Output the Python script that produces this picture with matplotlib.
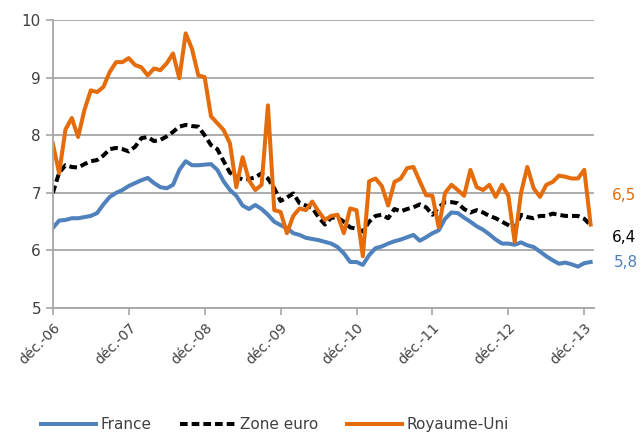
import numpy as np
import matplotlib
matplotlib.use('Agg')
import matplotlib.pyplot as plt

# monthly long-term rates, dec. 2006 -> jan. 2014
france = [6.39, 6.52, 6.53, 6.56, 6.56, 6.58, 6.60, 6.65, 6.80, 6.93,
          7.00, 7.05, 7.12, 7.17, 7.22, 7.26, 7.17, 7.10, 7.08, 7.14,
          7.40, 7.55, 7.48, 7.48, 7.49, 7.50, 7.40, 7.20, 7.05, 6.95,
          6.78, 6.72, 6.79, 6.72, 6.62, 6.50, 6.44, 6.39, 6.30, 6.27,
          6.22, 6.20, 6.18, 6.15, 6.12, 6.06, 5.95, 5.80, 5.80, 5.75,
          5.92, 6.04, 6.07, 6.12, 6.16, 6.19, 6.23, 6.27, 6.17, 6.23,
          6.30, 6.35, 6.55, 6.66, 6.65, 6.57, 6.50, 6.42, 6.36, 6.28,
          6.19, 6.12, 6.12, 6.10, 6.14, 6.09, 6.06, 5.98, 5.90, 5.83,
          5.77, 5.79, 5.76, 5.72, 5.78, 5.80]
zone_euro = [7.00, 7.35, 7.48, 7.45, 7.44, 7.50, 7.55, 7.57, 7.65, 7.76,
             7.78, 7.76, 7.72, 7.80, 7.95, 7.97, 7.90, 7.92, 7.98, 8.06,
             8.15, 8.18, 8.16, 8.15, 8.00, 7.83, 7.76, 7.55, 7.35, 7.28,
             7.23, 7.24, 7.27, 7.34, 7.25, 7.08, 6.86, 6.92, 6.99, 6.82,
             6.78, 6.74, 6.58, 6.45, 6.57, 6.57, 6.50, 6.40, 6.38, 6.33,
             6.50, 6.60, 6.62, 6.56, 6.72, 6.68, 6.72, 6.75, 6.80, 6.75,
             6.62, 6.75, 6.84, 6.84, 6.82, 6.72, 6.66, 6.70, 6.66, 6.60,
             6.56, 6.50, 6.44, 6.38, 6.62, 6.58, 6.56, 6.60, 6.60, 6.64,
             6.62, 6.60, 6.60, 6.60, 6.55, 6.44]
royaume_uni = [7.86, 7.34, 8.10, 8.30, 7.97, 8.44, 8.78, 8.75, 8.84, 9.10,
               9.27, 9.27, 9.34, 9.22, 9.18, 9.04, 9.16, 9.13, 9.25, 9.42,
               8.99, 9.77, 9.50, 9.04, 9.01, 8.33, 8.21, 8.09, 7.86, 7.10,
               7.62, 7.22, 7.05, 7.14, 8.52, 6.70, 6.67, 6.30, 6.60, 6.73,
               6.70, 6.85, 6.68, 6.53, 6.60, 6.62, 6.30, 6.73, 6.70, 5.90,
               7.20, 7.25, 7.12, 6.78, 7.19, 7.25, 7.43, 7.45, 7.20, 6.96,
               6.95, 6.40, 7.00, 7.14, 7.05, 6.95, 7.40, 7.10, 7.05, 7.14,
               6.93, 7.14, 6.95, 6.15, 7.00, 7.45, 7.08, 6.93, 7.14, 7.19,
               7.30, 7.28, 7.25, 7.25, 7.40, 6.45]

tick_labels = ['déc.-06', 'déc.-07', 'déc.-08', 'déc.-09',
               'déc.-10', 'déc.-11', 'déc.-12', 'déc.-13']
end_labels = ['6,5', '6,4', '5,8']

BLUE = '#4f81bd'
ORANGE = '#e46c0a'
GRID = '#a6a6a6'
TXT = '#404040'

months = np.arange(len(france))

fig = plt.figure(figsize=(6.44, 4.37), dpi=100)
ax = fig.add_axes([0.082, 0.295, 0.84, 0.659])

ax.plot(months, france, color=BLUE, lw=2.9, label='France', solid_joinstyle='round')
ax.plot(months, zone_euro, color='black', lw=2.9, ls=(0, (1.9, 1.0)), label='Zone euro')
ax.plot(months, royaume_uni, color=ORANGE, lw=2.9, label='Royaume-Uni', solid_joinstyle='round')

ax.set_xlim(0, 85.5)
ax.set_ylim(5, 10)
ax.set_yticks(range(5, 11))
ax.set_xticks(range(0, 85, 12))
ax.set_xticklabels(tick_labels, rotation=45, ha='right', rotation_mode='anchor',
                   fontsize=10, color=TXT)
ax.tick_params(axis='y', labelsize=11, labelcolor=TXT, length=5, color=GRID, width=1.2)
ax.tick_params(axis='x', length=5, color=GRID, width=1.2, pad=4)

ax.grid(axis='y', color=GRID, lw=1.3)
ax.set_axisbelow(True)
for s in ['top', 'right']:
    ax.spines[s].set_visible(False)
for s in ['left', 'bottom']:
    ax.spines[s].set_color(GRID)
    ax.spines[s].set_linewidth(1.3)

# values written at the right end
ax.text(90.3, 6.96, end_labels[0], color=ORANGE, fontsize=11, ha='center', va='center', clip_on=False)
ax.text(90.3, 6.23, end_labels[1], color='black', fontsize=11, ha='center', va='center', clip_on=False)
ax.text(90.6, 5.80, end_labels[2], color=BLUE, fontsize=11, ha='center', va='center', clip_on=False)

fig.legend(loc='lower center', bbox_to_anchor=(0.427, -0.02), ncol=3, frameon=False,
           handlelength=3.6, columnspacing=1.9, fontsize=11, labelcolor=TXT,
           handletextpad=0.3)

fig.savefig('out.png', dpi=100)
